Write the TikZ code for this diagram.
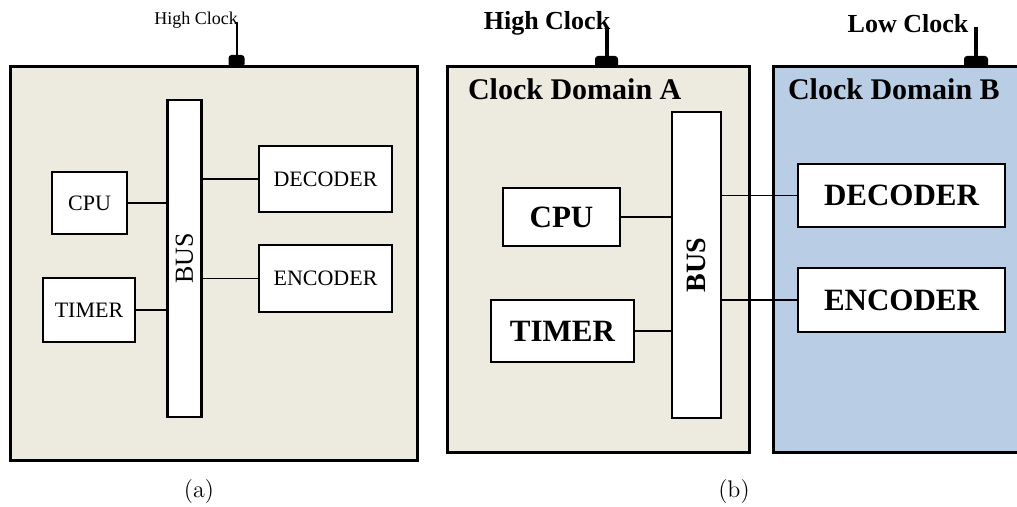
\documentclass[tikz,border=0pt]{standalone}
\usepackage{fontspec}
\newfontfamily\diafont{Liberation Serif}
\usepackage{xcolor}
\usetikzlibrary{positioning}
\definecolor{paneltan}{HTML}{EDEAE0}
\definecolor{domainblue}{HTML}{B9CDE4}

\begin{document}
\begin{tikzpicture}[x=0.5pt, y=-0.5pt,
    panel/.style={draw=black, line width=1.5pt, inner sep=0pt},
    box/.style={draw=black, fill=white, line width=1.4pt, inner sep=0pt},
    fonta/.style={font=\diafont\fontsize{11}{13}\selectfont},
    fontb/.style={font=\diafont\bfseries\fontsize{15.5}{18}\selectfont},
    wire/.style={line width=0.6pt},
    clkpin/.style={fill=black, rounded corners=1.5pt, inner sep=0pt, minimum height=6pt},
    clktext/.style={font=\diafont\bfseries\fontsize{13}{15}\selectfont}
]
\useasboundingbox (0,0) rectangle (1017,507);
\clip (0,0) rectangle (1017,507);

% (a) single clock
\node[panel, fill=paneltan, minimum width=203.5pt, minimum height=196.5pt] (panela) at (213.5,263.5) {};
\node[clkpin, minimum width=8pt] (pina) at (236.5,61) {};
\coordinate (pinatop) at (236.5,22);
\draw[line width=1pt] (pina.center) -- (pinatop);
\node[font=\diafont\fontsize{9}{11}\selectfont] (clka) at (196,20) {High Clock};

\node[box, minimum width=17pt, minimum height=158.5pt] (busa) at (184.5,258.5) {};
\node[fonta, font=\diafont\fontsize{13}{15}\selectfont, rotate=90] (busatext) at (busa) {BUS};
\node[box, fonta, minimum width=37.5pt, minimum height=31pt] (cpua) at (89.5,203) {CPU};
\node[box, fonta, minimum width=46pt, minimum height=32pt] (timera) at (89,310) {TIMER};
\node[box, fonta, minimum width=66.5pt, minimum height=33pt] (deca) at (325.5,179) {DECODER};
\node[box, fonta, minimum width=66.5pt, minimum height=33.5pt] (enca) at (325.5,278.5) {ENCODER};
\draw[wire] (cpua.east) -- (cpua.east -| busa.west);
\draw[wire] (timera.east) -- (timera.east -| busa.west);
\draw[wire] (deca.west) -- (deca.west -| busa.east);
\draw[wire] (enca.west) -- (enca.west -| busa.east);

% (b) two clock domains
\node[panel, fill=paneltan, minimum width=151pt, minimum height=192.5pt] (doma) at (598,259.5) {};
\node[panel, fill=domainblue, minimum width=130pt, minimum height=192.5pt] (domb) at (903,259.5) {};
\node[fontb, font=\diafont\bfseries\fontsize{15}{18}\selectfont, anchor=west] (domatext) at (461,89) {Clock Domain A};
\node[fontb, font=\diafont\bfseries\fontsize{15}{18}\selectfont, anchor=west] (dombtext) at (781,89) {Clock Domain B};

\node[clkpin, minimum width=11.5pt] (pinb) at (606.5,62) {};
\coordinate (pinbtop) at (606.5,27);
\draw[line width=2pt] (pinb.center) -- (pinbtop);
\node[clktext] (clkb) at (547,23) {High Clock};
\node[clkpin, minimum width=12pt] (pinc) at (976,62) {};
\coordinate (pinctop) at (976,27);
\draw[line width=2pt] (pinc.center) -- (pinctop);
\node[clktext] (clkc) at (908,24) {Low Clock};

\node[box, minimum width=24.5pt, minimum height=153pt] (busb) at (696.5,265) {};
\node[fontb, font=\diafont\bfseries\fontsize{14}{16}\selectfont, rotate=90] (busbtext) at (busb) {BUS};
\node[box, fontb, minimum width=58.5pt, minimum height=29pt] (cpub) at (561.5,217) {CPU};
\node[box, fontb, minimum width=71.5pt, minimum height=31pt] (timerb) at (562.5,331) {TIMER};
\node[box, fontb, minimum width=103.5pt, minimum height=31.5pt] (decb) at (901.5,195.5) {DECODER};
\node[box, fontb, minimum width=103.5pt, minimum height=32pt] (encb) at (901.5,300) {ENCODER};
\draw[wire] (cpub.east) -- (cpub.east -| busb.west);
\draw[wire] (timerb.east) -- (timerb.east -| busb.west);
\draw[wire] (decb.west) -- (decb.west -| busb.east);
\draw[wire] (encb.west) -- (encb.west -| busb.east);

\node[font=\fontsize{12}{14}\selectfont] (capa) at (199,492) {(a)};
\node[font=\fontsize{12}{14}\selectfont] (capb) at (734,492) {(b)};
\end{tikzpicture}
\end{document}
